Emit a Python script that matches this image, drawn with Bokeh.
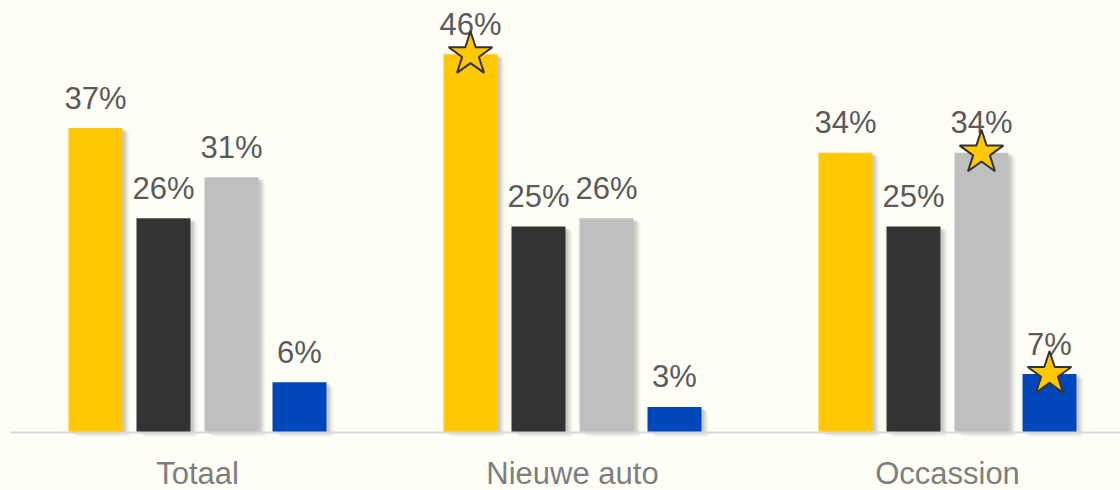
from bokeh.plotting import figure
from bokeh.models import ColumnDataSource
from bokeh.core.properties import value
from bokeh.embed import file_html
from bokeh.resources import INLINE

# ---- data ----
categories = ["Totaal", "Nieuwe auto", "Occassion"]
series_colors = ["#FFC800", "#333333", "#BFBFBF", "#0047BB"]
yellow_vals = [37, 46, 34]
dark_vals = [26, 25, 25]
gray_vals = [31, 26, 34]
blue_vals = [6, 3, 7]
# which bars carry a star marker
yellow_star = [False, True, False]
dark_star = [False, False, False]
gray_star = [False, False, True]
blue_star = [False, False, True]

series = [yellow_vals, dark_vals, gray_vals, blue_vals]
stars = [yellow_star, dark_star, gray_star, blue_star]

BG = "#FEFEF6"
W, H = 1120, 490
PX_X = 375.0   # pixels per group
PX_Y = 8.2     # pixels per percent
X0 = 197       # pixel of first group centre
Y0 = 431       # pixel of baseline

x_start, x_end = -X0 / PX_X, (W - X0) / PX_X
p = figure(width=W, height=H, output_backend="svg", toolbar_location=None,
           x_range=(x_start, x_end), y_range=(-(H - Y0) / PX_Y, Y0 / PX_Y),
           min_border=0, background_fill_color=BG, border_fill_color=BG)
p.outline_line_color = None
p.axis.visible = False
p.grid.visible = False

offsets = [-0.272, -0.0907, 0.0907, 0.272]
bw = 54 / PX_X

bx, by, bc = [], [], []
sx, sy = [], []
lx, ly, lt = [], [], []
for si, vals in enumerate(series):
    for gi, v in enumerate(vals):
        x = gi + offsets[si]
        bx.append(x); by.append(v); bc.append(series_colors[si])
        lx.append(x); ly.append(v); lt.append(f"{v}%")
        if stars[si][gi]:
            sx.append(x); sy.append(v)

src = ColumnDataSource(dict(x=bx, top=by, color=bc))
# soft shadows
for dx, dy, a in [(7, 5, 0.08), (5, 3, 0.14), (3, 2, 0.22)]:
    p.vbar(x=[xx + dx / PX_X for xx in bx], top=[t - dy / PX_Y for t in by],
           bottom=-dy / PX_Y, width=bw, fill_color="#7a7a7a", fill_alpha=a, line_color=None)

# baseline (category axis line)
p.segment(x0=[x_start + 10 / PX_X], y0=[-1 / PX_Y], x1=[x_end], y1=[-1 / PX_Y],
          line_color="#D9D9D9", line_width=2)

p.vbar(x="x", top="top", bottom=0, width=bw, fill_color="color", line_color=None, source=src)

# value labels
p.text(x=lx, y=ly, text=lt, text_align="center", text_baseline="alphabetic", y_offset=-30,
       text_font=value("Liberation Sans"), text_font_size="31px", text_color="#5A5A5A")

# stars
p.scatter(x=sx, y=sy, marker="star", size=46, fill_color="#FFC800",
          line_color="#333333", line_width=2)

# category labels
p.text(x=list(range(len(categories))), y=[0] * len(categories), text=categories,
       text_align="center", text_baseline="alphabetic", y_offset=42,
       text_font=value("Liberation Sans"), text_font_size="31px", text_color="#7F7F7F")

open("out.html", "w").write(file_html(p, INLINE).replace(
    "<head>", "<head><style>html,body{background:#FEFEF6}</style>", 1))
